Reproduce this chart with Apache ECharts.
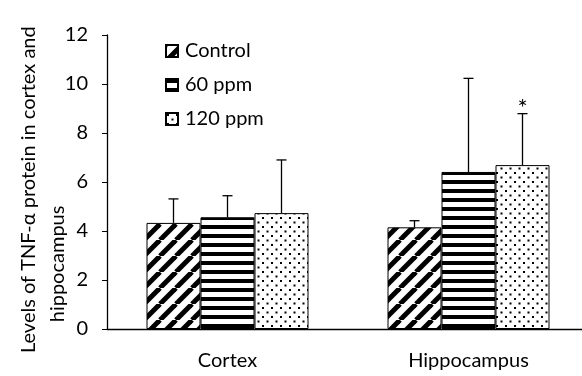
<!DOCTYPE html>
<html><head><meta charset="utf-8">
<script src="https://cdn.jsdelivr.net/npm/echarts@6/dist/echarts.min.js"></script>
<style>html,body{margin:0;padding:0;background:#fff}#c{width:582px;height:376px}</style>
</head><body><div id="c"></div>
<script>
var categories = ['Cortex', 'Hippocampus'];
var seriesNames = ['Control', '60 ppm', '120 ppm'];
var controlVals = [4.33, 4.15];
var ppm60Vals = [4.56, 6.41];
var ppm120Vals = [4.73, 6.69];
var controlErr = [5.31, 4.42];
var ppm60Err = [5.44, 10.23];
var ppm120Err = [6.9, 8.79];
var ppm120Sig = ['', '*'];
var yTicks = [0, 2, 4, 6, 8, 10, 12];
var yTitleLines = ['Levels of TNF-α protein in cortex and', 'hippocampus'];

function mk(w, h, draw) {
  var c = document.createElement('canvas'); c.width = w; c.height = h;
  var g = c.getContext('2d'); g.fillStyle = '#fff'; g.fillRect(0, 0, w, h);
  g.fillStyle = '#000'; g.strokeStyle = '#000'; draw(g, w, h); return c;
}
var diag = mk(16, 16, function (g, w, h) {
  g.lineWidth = 5;
  for (var k = -1; k <= 1; k++) { g.beginPath(); g.moveTo(k * w, h); g.lineTo(k * w + w, 0); g.stroke(); }
});
var horiz = mk(9, 9, function (g) { g.fillRect(0, 0, 9, 4); });
var dots = mk(9, 9, function (g) { g.fillRect(1, 1, 2, 2); g.fillRect(5.5, 5.5, 2, 2); });
var patterns = [diag, horiz, dots];
var vals = [controlVals, ppm60Vals, ppm120Vals];
var errs = [controlErr, ppm60Err, ppm120Err];
var sigs = [['', ''], ['', ''], ppm120Sig];

var font = 'Lato, "Open Sans", sans-serif';
var FS = 20;
var BW = 54;
var NB = '\u00a0';
function pad(n) { var s = ''; for (var k = 0; k < n; k++) s += NB; return s; }
var yName = yTitleLines[0] + pad(3) + '\n' + yTitleLines[1] + pad(32);

var series = [];
seriesNames.forEach(function (n, i) {
  series.push({
    name: n, type: 'bar', data: vals[i], barWidth: BW, barGap: '0%',
    itemStyle: { color: { image: patterns[i], repeat: 'repeat' }, borderColor: '#000', borderWidth: 1 },
    z: 2
  });
});
seriesNames.forEach(function (n, i) {
  series.push({
    type: 'custom', name: n + ' err', z: 3,
    data: categories.map(function (c, j) { return [j, vals[i][j], errs[i][j], sigs[i][j]]; }),
    renderItem: function (params, api) {
      var base = api.coord([api.value(0), api.value(1)]);
      var top = api.coord([api.value(0), api.value(2)]);
      var x = base[0] + (i - 1) * BW;
      var children = [
        { type: 'line', shape: { x1: x, y1: base[1], x2: x, y2: top[1] }, style: { stroke: '#000', lineWidth: 1.3 } },
        { type: 'line', shape: { x1: x - 5, y1: top[1], x2: x + 5, y2: top[1] }, style: { stroke: '#000', lineWidth: 1.3 } }
      ];
      var s = sigs[i][params.dataIndex];
      if (s) children.push({ type: 'text', x: x, y: top[1] + 7, style: { text: s, fill: '#000', font: '24px ' + font, align: 'center', verticalAlign: 'bottom' } });
      return { type: 'group', children: children };
    }
  });
});

var chart = echarts.init(document.getElementById('c'), null, { renderer: 'canvas' });
chart.setOption({
  animation: false,
  backgroundColor: '#fff',
  textStyle: { fontFamily: font },
  grid: { left: 107, right: -7, top: 35, bottom: 47, containLabel: false, outerBoundsMode: 'none' },
  legend: {
    data: seriesNames, orient: 'vertical', left: 160, top: 36, itemGap: 14,
    itemWidth: 12, itemHeight: 12, icon: 'rect',
    textStyle: { fontSize: FS, color: '#000', fontFamily: font, padding: [0, 0, 0, 2] }
  },
  xAxis: {
    type: 'category', data: categories,
    axisLine: { lineStyle: { color: '#000', width: 1.3 } },
    axisTick: { inside: true, length: 6, lineStyle: { color: '#000' } },
    axisLabel: { color: '#000', fontSize: FS, margin: 22, fontFamily: font }
  },
  yAxis: {
    type: 'value', min: yTicks[0], max: yTicks[yTicks.length - 1], interval: 2,
    name: yName,
    nameLocation: 'middle', nameGap: 35, nameRotate: 90, nameMoveOverlap: false,
    nameTextStyle: { color: '#000', fontSize: FS, lineHeight: 29, fontFamily: font },
    splitLine: { show: false },
    axisLine: { show: true, lineStyle: { color: '#000', width: 1.3 } },
    axisTick: { show: true, length: 5, lineStyle: { color: '#000' } },
    axisLabel: { color: '#000', fontSize: FS, margin: 19, fontFamily: font }
  },
  series: series
});
</script></body></html>
